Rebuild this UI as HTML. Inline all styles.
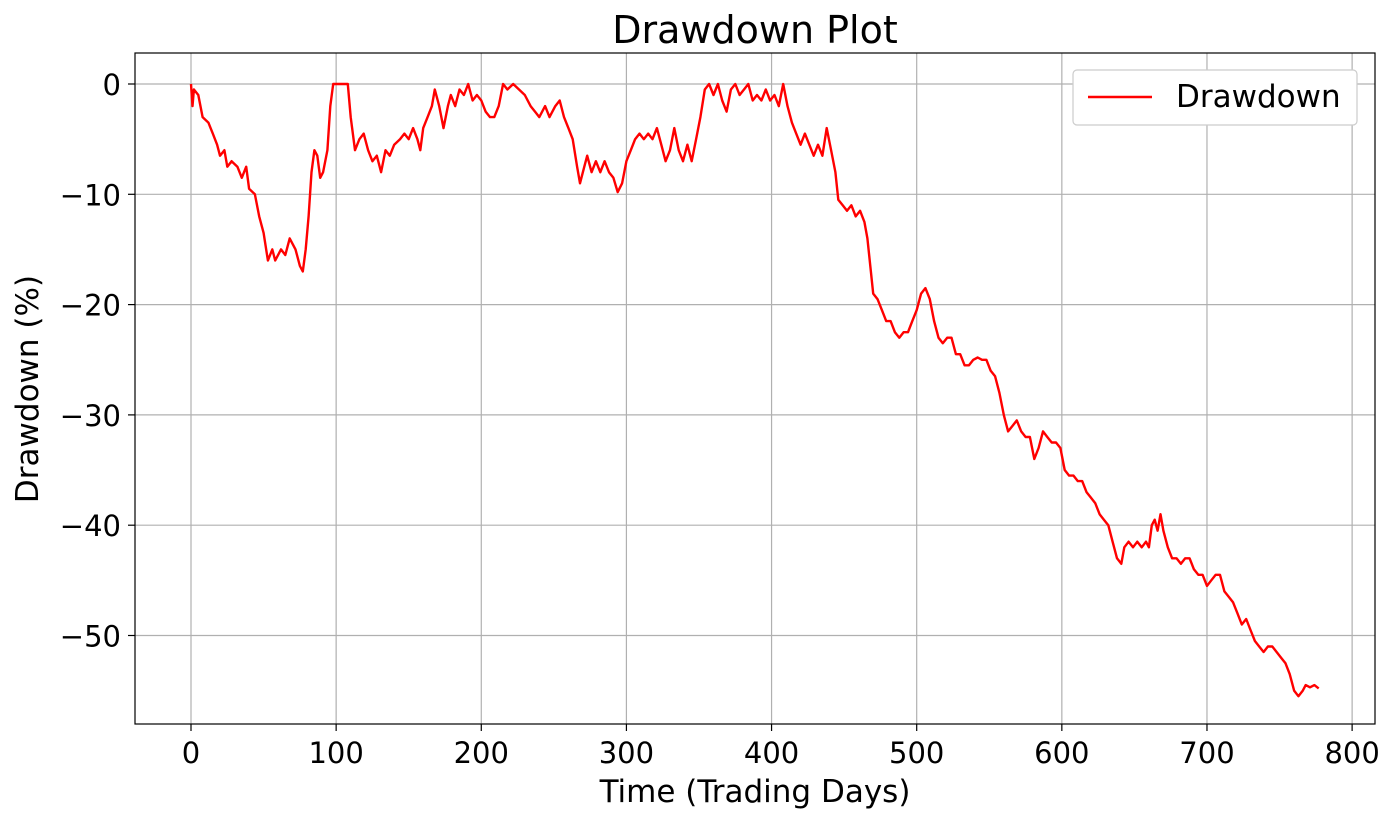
<!DOCTYPE html>
<html><head><meta charset="utf-8"><style>
body{margin:0;background:#fff;}
svg{display:block;font-family:"DejaVu Sans","Liberation Sans",sans-serif;}
</style></head><body>
<svg id="chart" width="1397" height="823">
<text x="755" y="43" text-anchor="middle" font-size="38" fill="#000">Drawdown Plot</text>
<g id="grid"></g>
<g id="ticks"></g>
<path id="line" fill="none" stroke="#ff0000" stroke-width="2.4" stroke-linejoin="round"></path>
<rect x="135" y="53" width="1240" height="671" fill="none" stroke="#000" stroke-width="1.2"/>
<text x="755" y="802" text-anchor="middle" font-size="31">Time (Trading Days)</text>
<text transform="translate(38,389) rotate(-90)" text-anchor="middle" font-size="31">Drawdown (%)</text>
<g>
<rect x="1073" y="70" width="284" height="55" rx="4" fill="#fff" stroke="#ccc" stroke-width="1.2"/>
<line x1="1088" y1="97" x2="1152" y2="97" stroke="#ff0000" stroke-width="2.4"/>
<text x="1176" y="107" font-size="31">Drawdown</text>
</g>
</svg>
<script>
const days=[0,1,2,5,8,12,15,18,20,23,25,28,32,35,38,40,44,47,50,53,56,58,62,65,68,72,75,77,79,81,83,85,87,89,91,94,96,98,108,110,113,116,119,122,125,128,131,134,137,140,144,147,150,153,156,158,160,163,166,168,171,174,177,179,182,185,188,191,194,197,200,203,206,209,212,215,218,222,226,230,234,237,240,244,247,251,254,257,260,263,266,268,271,273,276,279,282,285,288,291,294,297,300,303,306,309,312,315,318,321,324,327,330,333,336,339,342,345,348,351,354,357,360,363,366,369,372,375,378,381,384,387,390,393,396,399,402,405,408,411,414,417,420,423,426,429,432,435,438,441,444,446,449,452,455,458,461,464,466,468,470,473,476,479,482,485,488,491,494,497,500,503,506,509,512,515,518,521,524,527,530,533,536,539,542,545,548,551,554,557,560,563,566,569,572,575,578,581,584,587,590,593,596,599,602,605,608,611,614,617,620,623,626,629,632,635,638,641,643,646,649,652,655,658,660,662,664,666,668,670,673,676,679,682,685,688,691,694,697,700,703,706,709,712,715,718,721,724,727,730,733,736,739,742,745,748,751,754,757,760,763,766,768,771,774,777];
const drawdown=[0,-2,-0.5,-1,-3,-3.5,-4.5,-5.5,-6.5,-6,-7.5,-7,-7.5,-8.5,-7.5,-9.5,-10,-12,-13.5,-16,-15,-16,-15,-15.5,-14,-15,-16.5,-17,-15,-12,-8,-6,-6.5,-8.5,-8,-6,-2,0,0,-3,-6,-5,-4.5,-6,-7,-6.5,-8,-6,-6.5,-5.5,-5,-4.5,-5,-4,-5,-6,-4,-3,-2,-0.5,-2,-4,-2,-1,-2,-0.5,-1,0,-1.5,-1,-1.5,-2.5,-3,-3,-2,0,-0.5,0,-0.5,-1,-2,-2.5,-3,-2,-3,-2,-1.5,-3,-4,-5,-7.5,-9,-7.5,-6.5,-8,-7,-8,-7,-8,-8.5,-9.8,-9,-7,-6,-5,-4.5,-5,-4.5,-5,-4,-5.5,-7,-6,-4,-6,-7,-5.5,-7,-5,-3,-0.5,0,-1,0,-1.5,-2.5,-0.5,0,-1,-0.5,0,-1.5,-1,-1.5,-0.5,-1.5,-1,-2,0,-2,-3.5,-4.5,-5.5,-4.5,-5.5,-6.5,-5.5,-6.5,-4,-6,-8,-10.5,-11,-11.5,-11,-12,-11.5,-12.5,-14,-16.5,-19,-19.5,-20.5,-21.5,-21.5,-22.5,-23,-22.5,-22.5,-21.5,-20.5,-19,-18.5,-19.5,-21.5,-23,-23.5,-23,-23,-24.5,-24.5,-25.5,-25.5,-25,-24.8,-25,-25,-26,-26.5,-28,-30,-31.5,-31,-30.5,-31.5,-32,-32,-34,-33,-31.5,-32,-32.5,-32.5,-33,-35,-35.5,-35.5,-36,-36,-37,-37.5,-38,-39,-39.5,-40,-41.5,-43,-43.5,-42,-41.5,-42,-41.5,-42,-41.5,-42,-40,-39.5,-40.5,-39,-40.5,-42,-43,-43,-43.5,-43,-43,-44,-44.5,-44.5,-45.5,-45,-44.5,-44.5,-46,-46.5,-47,-48,-49,-48.5,-49.5,-50.5,-51,-51.5,-51,-51,-51.5,-52,-52.5,-53.5,-55,-55.5,-55,-54.5,-54.7,-54.5,-54.8];
const xTicks=[0,100,200,300,400,500,600,700,800];
const yTicks=[0,-10,-20,-30,-40,-50];
const xs=v=>191+v*1.4514;
const ys=v=>84-v*11.03;
const NS="http://www.w3.org/2000/svg";
const grid=document.getElementById('grid'),ticks=document.getElementById('ticks');
function mk(tag,attrs,parent){const e=document.createElementNS(NS,tag);for(const k in attrs)e.setAttribute(k,attrs[k]);parent.appendChild(e);return e;}
xTicks.forEach(t=>{const x=xs(t);
 const g=mk('line',{x1:x,x2:x,y1:53,y2:724,stroke:'#b0b0b0','stroke-width':1.2},grid);
 
 
 const tk=mk('line',{x1:x,x2:x,y1:724,y2:731,stroke:'#000','stroke-width':1.2},ticks);
 
 
 const lb=mk('text',{x:x,y:763,'text-anchor':'middle','font-size':29},ticks);lb.textContent=t;
 
 
});
yTicks.forEach(t=>{const y=ys(t);
 const g=mk('line',{x1:135,x2:1375,y1:y,y2:y,stroke:'#b0b0b0','stroke-width':1.2},grid);
 
 
 const tk=mk('line',{x1:128,x2:135,y1:y,y2:y,stroke:'#000','stroke-width':1.2},ticks);
 
 
 const lb=mk('text',{x:121,y:y+11,'text-anchor':'end','font-size':29},ticks);lb.textContent=t<0?'\u2212'+(-t):t;
 
 
});
document.getElementById('line').setAttribute('d',days.map((d,i)=>(i?'L':'M')+xs(d).toFixed(1)+','+ys(drawdown[i]).toFixed(1)).join(''));
</script>
</body></html>
